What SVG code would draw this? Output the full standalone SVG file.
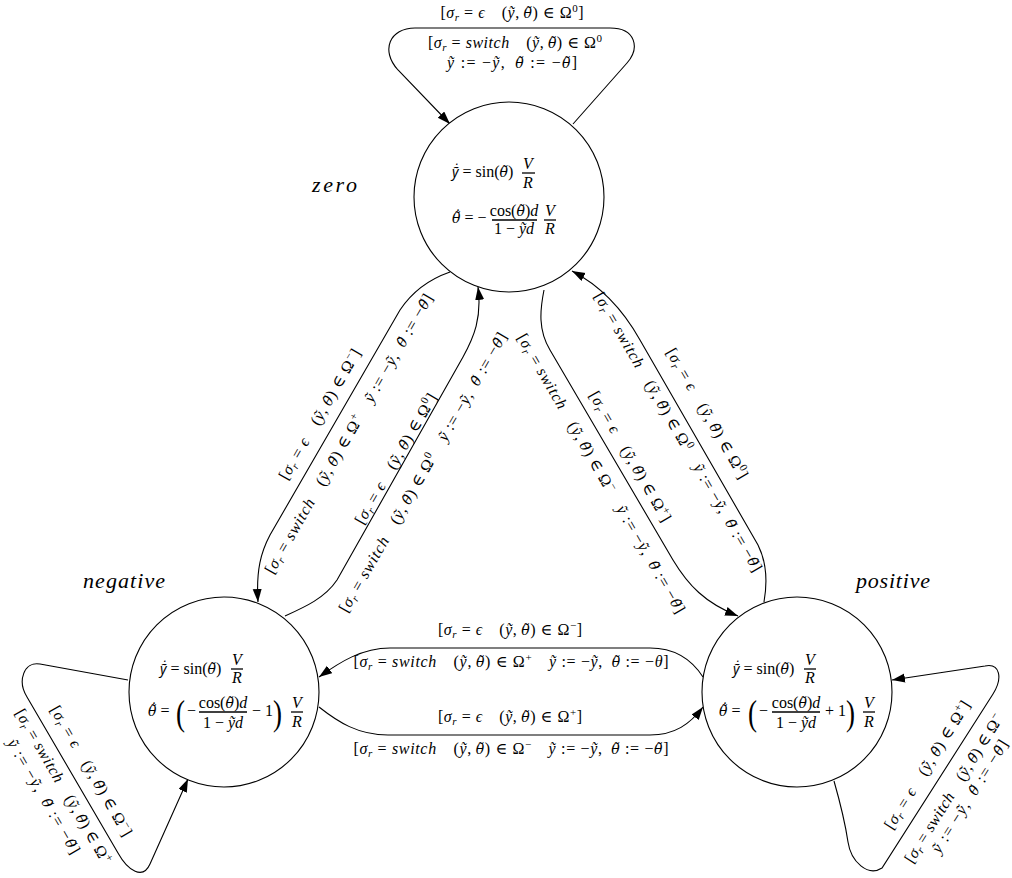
<svg xmlns="http://www.w3.org/2000/svg" width="1012" height="878" viewBox="0 0 1012 878">
<defs>
<style>
text{font-family:"Liberation Serif","DejaVu Serif",serif;font-size:16px;fill:#000}
.i{font-style:italic}
.g{font-family:"DejaVu Serif",serif;font-size:14px;font-style:italic}
.gy{font-family:"Noto Sans","DejaVu Sans",sans-serif;font-size:14px;font-style:italic}
.s{font-size:11px}
.nm{font-size:22px;font-style:italic}
.c{text-anchor:middle}
.st{fill:none;stroke:#000;stroke-width:1.1}
.bar{stroke:#000;stroke-width:1.3}
.par{font-size:36px}
.node{fill:#fff;stroke:#000;stroke-width:1.1}
</style>
<marker id="ah" markerUnits="userSpaceOnUse" markerWidth="14" markerHeight="10" refX="13" refY="4.5" orient="auto"><path d="M0,0 L13,4.5 L0,9 z" fill="#000"/></marker>
</defs>
<rect width="1012" height="878" fill="#fff"/>

<g id="connectors">
<g id="e-zero-zero">
<path class="st" marker-end="url(#ah)" d="M573,124 L627,63 C640,48 636,28 610,28 L415,28 C390,28 380,50 398,70 L450,124"/>
<text class="c" x="512" y="18" textLength="143" lengthAdjust="spacing">[<tspan class="i">σ</tspan><tspan class="s i" dy="3">r</tspan><tspan dy="-3"> = </tspan><tspan class="i">&#1013;</tspan>&#8195;(<tspan class="i">ỹ</tspan>,&#8201;<tspan class="g">θ&#771;</tspan>) ∈ Ω<tspan class="s" dy="-6">0</tspan><tspan dy="6">]</tspan></text>
<text class="c" x="515" y="48" textLength="174" lengthAdjust="spacing">[<tspan class="i">σ</tspan><tspan class="s i" dy="3">r</tspan><tspan dy="-3"> = </tspan><tspan class="i">switch</tspan>&#8195;(<tspan class="i">ỹ</tspan>,&#8201;<tspan class="g">θ&#771;</tspan>) ∈ Ω<tspan class="s" dy="-6">0</tspan></text>
<text class="c" x="512" y="68" textLength="130" lengthAdjust="spacing"><tspan class="i">ỹ</tspan> := −<tspan class="i">ỹ</tspan>,&#8194;<tspan class="g">θ&#771;</tspan> := −<tspan class="g">θ&#771;</tspan>]</text>
</g>
<g id="e-zero-negative">
<path class="st" marker-end="url(#ah)" d="M450,272 C427,280 412,292 400,310 L270,535 C261,552 256,570 258,602"/>
<text class="c" transform="translate(324.3,417) rotate(-60)" textLength="148" lengthAdjust="spacing">[<tspan class="i">σ</tspan><tspan class="s i" dy="3">r</tspan><tspan dy="-3"> = </tspan><tspan class="i">&#1013;</tspan>&#8195;(<tspan class="i">ỹ</tspan>,&#8201;<tspan class="g">θ&#771;</tspan>) ∈ Ω<tspan class="s" dy="-6">−</tspan><tspan dy="6">]</tspan></text>
<text class="c" transform="translate(353.3,436.5) rotate(-60)" textLength="320" lengthAdjust="spacing">[<tspan class="i">σ</tspan><tspan class="s i" dy="3">r</tspan><tspan dy="-3"> = </tspan><tspan class="i">switch</tspan>&#8195;(<tspan class="i">ỹ</tspan>,&#8201;<tspan class="g">θ&#771;</tspan>) ∈ Ω<tspan class="s" dy="-6">+</tspan><tspan dy="6">&#8195;</tspan><tspan class="i">ỹ</tspan> := −<tspan class="i">ỹ</tspan>,&#8194;<tspan class="g">θ&#771;</tspan> := −<tspan class="g">θ&#771;</tspan>]</text>
</g>
<g id="e-negative-zero">
<path class="st" marker-end="url(#ah)" d="M285,616 C305,607 325,598 337,580 L463,357 C474,337 482,318 478,287"/>
<text class="c" transform="translate(400.3,461.5) rotate(-60)" textLength="148" lengthAdjust="spacing">[<tspan class="i">σ</tspan><tspan class="s i" dy="3">r</tspan><tspan dy="-3"> = </tspan><tspan class="i">&#1013;</tspan>&#8195;(<tspan class="i">ỹ</tspan>,&#8201;<tspan class="g">θ&#771;</tspan>) ∈ Ω<tspan class="s" dy="-6">0</tspan><tspan dy="6">]</tspan></text>
<text class="c" transform="translate(427.3,475) rotate(-60)" textLength="320" lengthAdjust="spacing">[<tspan class="i">σ</tspan><tspan class="s i" dy="3">r</tspan><tspan dy="-3"> = </tspan><tspan class="i">switch</tspan>&#8195;(<tspan class="i">ỹ</tspan>,&#8201;<tspan class="g">θ&#771;</tspan>) ∈ Ω<tspan class="s" dy="-6">0</tspan><tspan dy="6">&#8195;</tspan><tspan class="i">ỹ</tspan> := −<tspan class="i">ỹ</tspan>,&#8194;<tspan class="g">θ&#771;</tspan> := −<tspan class="g">θ&#771;</tspan>]</text>
</g>
<g id="e-zero-positive">
<path class="st" marker-end="url(#ah)" d="M544,290 C540,310 538,330 550,350 L673,560 C688,585 705,603 738,616"/>
<text class="c" transform="translate(625.7,459) rotate(60)" textLength="148" lengthAdjust="spacing">[<tspan class="i">σ</tspan><tspan class="s i" dy="3">r</tspan><tspan dy="-3"> = </tspan><tspan class="i">&#1013;</tspan>&#8195;(<tspan class="i">ỹ</tspan>,&#8201;<tspan class="g">θ&#771;</tspan>) ∈ Ω<tspan class="s" dy="-6">+</tspan><tspan dy="6">]</tspan></text>
<text class="c" transform="translate(596.7,476) rotate(60)" textLength="320" lengthAdjust="spacing">[<tspan class="i">σ</tspan><tspan class="s i" dy="3">r</tspan><tspan dy="-3"> = </tspan><tspan class="i">switch</tspan>&#8195;(<tspan class="i">ỹ</tspan>,&#8201;<tspan class="g">θ&#771;</tspan>) ∈ Ω<tspan class="s" dy="-6">−</tspan><tspan dy="6">&#8195;</tspan><tspan class="i">ỹ</tspan> := −<tspan class="i">ỹ</tspan>,&#8194;<tspan class="g">θ&#771;</tspan> := −<tspan class="g">θ&#771;</tspan>]</text>
</g>
<g id="e-positive-zero">
<path class="st" marker-end="url(#ah)" d="M764,602 C767,585 768,565 758,545 L640,340 C626,315 605,288 572,271"/>
<text class="c" transform="translate(702.7,416) rotate(60)" textLength="148" lengthAdjust="spacing">[<tspan class="i">σ</tspan><tspan class="s i" dy="3">r</tspan><tspan dy="-3"> = </tspan><tspan class="i">&#1013;</tspan>&#8195;(<tspan class="i">ỹ</tspan>,&#8201;<tspan class="g">θ&#771;</tspan>) ∈ Ω<tspan class="s" dy="-6">0</tspan><tspan dy="6">]</tspan></text>
<text class="c" transform="translate(673.7,434.5) rotate(60)" textLength="320" lengthAdjust="spacing">[<tspan class="i">σ</tspan><tspan class="s i" dy="3">r</tspan><tspan dy="-3"> = </tspan><tspan class="i">switch</tspan>&#8195;(<tspan class="i">ỹ</tspan>,&#8201;<tspan class="g">θ&#771;</tspan>) ∈ Ω<tspan class="s" dy="-6">0</tspan><tspan dy="6">&#8195;</tspan><tspan class="i">ỹ</tspan> := −<tspan class="i">ỹ</tspan>,&#8194;<tspan class="g">θ&#771;</tspan> := −<tspan class="g">θ&#771;</tspan>]</text>
</g>
<g id="e-positive-negative">
<path class="st" marker-end="url(#ah)" d="M703,677 C692,660 676,648 650,648 L390,648 C362,648 340,662 319,677"/>
<text class="c" x="510" y="635" textLength="144" lengthAdjust="spacing">[<tspan class="i">σ</tspan><tspan class="s i" dy="3">r</tspan><tspan dy="-3"> = </tspan><tspan class="i">&#1013;</tspan>&#8195;(<tspan class="i">ỹ</tspan>,&#8201;<tspan class="g">θ&#771;</tspan>) ∈ Ω<tspan class="s" dy="-6">−</tspan><tspan dy="6">]</tspan></text>
<text class="c" x="511" y="667" textLength="315" lengthAdjust="spacing">[<tspan class="i">σ</tspan><tspan class="s i" dy="3">r</tspan><tspan dy="-3"> = </tspan><tspan class="i">switch</tspan>&#8195;(<tspan class="i">ỹ</tspan>,&#8201;<tspan class="g">θ&#771;</tspan>) ∈ Ω<tspan class="s" dy="-6">+</tspan><tspan dy="6">&#8195;</tspan><tspan class="i">ỹ</tspan> := −<tspan class="i">ỹ</tspan>,&#8194;<tspan class="g">θ&#771;</tspan> := −<tspan class="i">θ</tspan>]</text>
</g>
<g id="e-negative-positive">
<path class="st" marker-end="url(#ah)" d="M319,707 C338,722 358,735 388,735 L650,735 C675,735 690,724 703,707"/>
<text class="c" x="510" y="722" textLength="144" lengthAdjust="spacing">[<tspan class="i">σ</tspan><tspan class="s i" dy="3">r</tspan><tspan dy="-3"> = </tspan><tspan class="i">&#1013;</tspan>&#8195;(<tspan class="i">ỹ</tspan>,&#8201;<tspan class="g">θ&#771;</tspan>) ∈ Ω<tspan class="s" dy="-6">+</tspan><tspan dy="6">]</tspan></text>
<text class="c" x="511" y="754" textLength="315" lengthAdjust="spacing">[<tspan class="i">σ</tspan><tspan class="s i" dy="3">r</tspan><tspan dy="-3"> = </tspan><tspan class="i">switch</tspan>&#8195;(<tspan class="i">ỹ</tspan>,&#8201;<tspan class="g">θ&#771;</tspan>) ∈ Ω<tspan class="s" dy="-6">−</tspan><tspan dy="6">&#8195;</tspan><tspan class="i">ỹ</tspan> := −<tspan class="i">ỹ</tspan>,&#8194;<tspan class="g">θ&#771;</tspan> := −<tspan class="g">θ&#771;</tspan>]</text>
</g>
<g id="e-negative-negative">
<path class="st" marker-end="url(#ah)" d="M128,680 L40,664 C24,661 17,681 27,697 L118,853 C128,871 143,880 150,864 L188,779"/>
<text class="c" transform="translate(86.7,773.5) rotate(60)" textLength="148" lengthAdjust="spacing">[<tspan class="i">σ</tspan><tspan class="s i" dy="3">r</tspan><tspan dy="-3"> = </tspan><tspan class="i">&#1013;</tspan>&#8195;(<tspan class="i">ỹ</tspan>,&#8201;<tspan class="g">θ&#771;</tspan>) ∈ Ω<tspan class="s" dy="-6">−</tspan><tspan dy="6">]</tspan></text>
<text class="c" transform="translate(58.7,789) rotate(60)" textLength="176" lengthAdjust="spacing">[<tspan class="i">σ</tspan><tspan class="s i" dy="3">r</tspan><tspan dy="-3"> = </tspan><tspan class="i">switch</tspan>&#8195;(<tspan class="i">ỹ</tspan>,&#8201;<tspan class="g">θ&#771;</tspan>) ∈ Ω<tspan class="s" dy="-6">+</tspan></text>
<text class="c" transform="translate(39.2,799) rotate(60)" textLength="130" lengthAdjust="spacing"><tspan class="i">ỹ</tspan> := −<tspan class="i">ỹ</tspan>,&#8194;<tspan class="g">θ&#771;</tspan> := −<tspan class="g">θ&#771;</tspan>]</text>
</g>
<g id="e-positive-positive">
<path class="st" marker-end="url(#ah)" d="M834,781 C840,802 845,822 848,842 C851,862 868,877 882,868 L993,694 C1003,678 1000,663 985,666 L892,680"/>
<text class="c" transform="translate(931.7,767.7) rotate(-58)" textLength="148" lengthAdjust="spacing">[<tspan class="i">σ</tspan><tspan class="s i" dy="3">r</tspan><tspan dy="-3"> = </tspan><tspan class="i">&#1013;</tspan>&#8195;(<tspan class="i">ỹ</tspan>,&#8201;<tspan class="g">θ&#771;</tspan>) ∈ Ω<tspan class="s" dy="-6">+</tspan><tspan dy="6">]</tspan></text>
<text class="c" transform="translate(958.2,791.2) rotate(-58)" textLength="172" lengthAdjust="spacing">[<tspan class="i">σ</tspan><tspan class="s i" dy="3">r</tspan><tspan dy="-3"> = </tspan><tspan class="i">switch</tspan>&#8195;(<tspan class="i">ỹ</tspan>,&#8201;<tspan class="g">θ&#771;</tspan>) ∈ Ω<tspan class="s" dy="-6">−</tspan></text>
<text class="c" transform="translate(974.2,799.2) rotate(-58)" textLength="130" lengthAdjust="spacing"><tspan class="i">ỹ</tspan> := −<tspan class="i">ỹ</tspan>,&#8194;<tspan class="g">θ&#771;</tspan> := −<tspan class="g">θ&#771;</tspan>]</text>
</g>
</g>

<g id="zero">
<circle class="node" cx="509" cy="197" r="95"/>
<text class="nm" x="312" y="192" textLength="45" lengthAdjust="spacing">zero</text>
<text x="452" y="177"><tspan class="gy">ỹ&#775;</tspan> = sin(<tspan class="g">θ&#771;</tspan>)</text>
<text class="c i" x="528" y="169">V</text>
<line class="bar" x1="522" y1="173" x2="535" y2="173"/>
<text class="c i" x="528" y="188">R</text>
<text x="452" y="223"><tspan class="g">θ&#771;&#775;</tspan> = −</text>
<text class="c" x="514" y="216">cos(<tspan class="g">θ&#771;</tspan>)<tspan class="i">d</tspan></text>
<line class="bar" x1="492" y1="220" x2="537" y2="220"/>
<text class="c" x="514" y="234">1 − <tspan class="i">ỹd</tspan></text>
<text class="c i" x="550" y="216">V</text>
<line class="bar" x1="544" y1="220" x2="556" y2="220"/>
<text class="c i" x="550" y="234">R</text>
</g>

<g id="negative">
<circle class="node" cx="224" cy="692" r="95"/>
<text class="nm" x="83" y="588" textLength="82" lengthAdjust="spacing">negative</text>
<text x="160" y="674"><tspan class="gy">ỹ&#775;</tspan> = sin(<tspan class="g">θ&#771;</tspan>)</text>
<text class="c i" x="237" y="665">V</text>
<line class="bar" x1="231" y1="669" x2="243" y2="669"/>
<text class="c i" x="237" y="683">R</text>
<text x="148" y="716"><tspan class="g">θ&#771;&#775;</tspan> =</text>
<text class="par" transform="translate(176,725) scale(0.75,1)">(</text>
<text x="187" y="716">−</text>
<text class="c" x="223" y="708">cos(<tspan class="g">θ&#771;</tspan>)<tspan class="i">d</tspan></text>
<line class="bar" x1="199" y1="712" x2="247" y2="712"/>
<text class="c" x="223" y="728">1 − <tspan class="i">ỹd</tspan></text>
<text x="252" y="716">− 1</text>
<text class="par" transform="translate(273,725) scale(0.75,1)">)</text>
<text class="c i" x="297" y="708">V</text>
<line class="bar" x1="291" y1="712" x2="303" y2="712"/>
<text class="c i" x="297" y="727">R</text>
</g>

<g id="positive">
<circle class="node" cx="797" cy="692" r="95"/>
<text class="nm" x="856" y="588" textLength="74" lengthAdjust="spacing">positive</text>
<text x="733" y="674"><tspan class="gy">ỹ&#775;</tspan> = sin(<tspan class="g">θ&#771;</tspan>)</text>
<text class="c i" x="810" y="665">V</text>
<line class="bar" x1="804" y1="669" x2="816" y2="669"/>
<text class="c i" x="810" y="683">R</text>
<text x="719" y="716"><tspan class="g">θ&#771;&#775;</tspan> =</text>
<text class="par" transform="translate(748,725) scale(0.75,1)">(</text>
<text x="759" y="716">−</text>
<text class="c" x="796" y="708">cos(<tspan class="g">θ&#771;</tspan>)<tspan class="i">d</tspan></text>
<line class="bar" x1="772" y1="712" x2="820" y2="712"/>
<text class="c" x="796" y="728">1 − <tspan class="i">ỹd</tspan></text>
<text x="825" y="716">+ 1</text>
<text class="par" transform="translate(846,725) scale(0.75,1)">)</text>
<text class="c i" x="869" y="708">V</text>
<line class="bar" x1="863" y1="712" x2="875" y2="712"/>
<text class="c i" x="869" y="727">R</text>
</g>
</svg>
